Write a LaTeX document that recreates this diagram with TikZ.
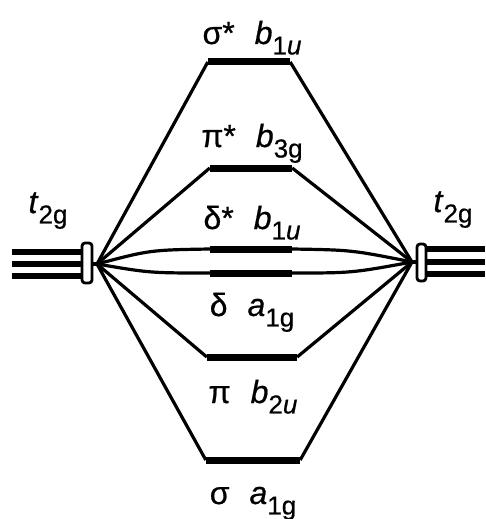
\documentclass[tikz,border=0pt]{standalone}
\usepackage{fontspec}
\setmainfont{Liberation Sans}
\newfontfamily\labfont{Liberation Sans}[FakeBold=0.6]
\newcommand{\mysub}[1]{\raisebox{-0.62ex}{\fontsize{26}{26}\selectfont #1}}
\newcommand{\mylab}[2]{#1\hspace{20pt}#2}
\begin{document}
\begin{tikzpicture}[x=1pt,y=-1pt,
  lvl/.style={fill=black, inner sep=0pt, minimum height=7pt},
  conn/.style={line width=3.2pt},
  bundle/.style={line width=6pt},
  endcapbox/.style={line width=2.8pt, rounded corners=3pt, fill=white},
  lab/.style={font=\labfont\fontsize{32}{32}\selectfont, inner sep=0pt, anchor=base}]
\useasboundingbox (0,0) rectangle (485,519);

% convergence points
\coordinate (L) at (97,264);
\coordinate (R) at (412,262);

% levels
\node[lvl, minimum width=82pt] (sigs) at (249,62) {};
\node[lvl, minimum width=82pt] (pis) at (251,168) {};
\node[lvl, minimum width=82pt] (dels) at (251,249) {};
\node[lvl, minimum width=82pt] (delb) at (251,273) {};
\node[lvl, minimum width=90pt] (pib) at (252,357) {};
\node[lvl, minimum width=94pt] (sigb) at (253,460) {};

% left t2g bundle
\coordinate (la1) at (12,252); \coordinate (la2) at (83,252);
\coordinate (lb1) at (12,264); \coordinate (lb2) at (83,264);
\coordinate (lc1) at (12,276); \coordinate (lc2) at (83,276);
\draw[bundle] (la1) -- (la2);
\draw[bundle] (lb1) -- (lb2);
\draw[bundle] (lc1) -- (lc2);
\draw[conn] (87,264) -- (L);
\draw[endcapbox] (82,243) rectangle (92,283);

% right t2g bundle
\coordinate (ra1) at (426,249); \coordinate (ra2) at (485,249);
\coordinate (rb1) at (426,262); \coordinate (rb2) at (485,262);
\coordinate (rc1) at (426,274); \coordinate (rc2) at (485,274);
\draw[bundle] (ra1) -- (ra2);
\draw[bundle] (rb1) -- (rb2);
\draw[bundle] (rc1) -- (rc2);
\draw[conn] (R) -- (421,262);
\draw[endcapbox] (417,244) rectangle (426,281);

% connectors
\draw[conn] (L) -- (sigs.west);  \draw[conn] (sigs.east) -- (R);
\draw[conn] (L) -- (pis.west);   \draw[conn] (pis.east) -- (R);
\draw[conn] (L) .. controls (150,250) .. (dels.west);
\draw[conn] (dels.east) .. controls (352,250) .. (R);
\draw[conn] (L) .. controls (150,273) .. (delb.west);
\draw[conn] (delb.east) .. controls (352,273) .. (R);
\draw[conn] (L) -- (pib.west);   \draw[conn] (pib.east) -- (R);
\draw[conn] (L) -- (sigb.west);  \draw[conn] (sigb.east) -- (R);

% labels
\node[lab] (tsigs) at (252,44) {\mylab{σ*}{\textit{b}\mysub{1\textit{u}}}};
\node[lab] (tpis) at (252,147) {\mylab{π*}{\textit{b}\mysub{3g}}};
\node[lab] (tdels) at (252,229) {\mylab{δ*}{\textit{b}\mysub{1\textit{u}}}};
\node[lab] (tdelb) at (252,316) {\mylab{δ}{\textit{a}\mysub{1g}}};
\node[lab] (tpib) at (253,403) {\mylab{π}{\textit{b}\mysub{2\textit{u}}}};
\node[lab] (tsigb) at (253,504) {\mylab{σ}{\textit{a}\mysub{1g}}};
\node[lab] (tl) at (48,213) {\textit{t}\mysub{2g}};
\node[lab] (tr) at (453,212) {\textit{t}\mysub{2g}};
\end{tikzpicture}
\end{document}
